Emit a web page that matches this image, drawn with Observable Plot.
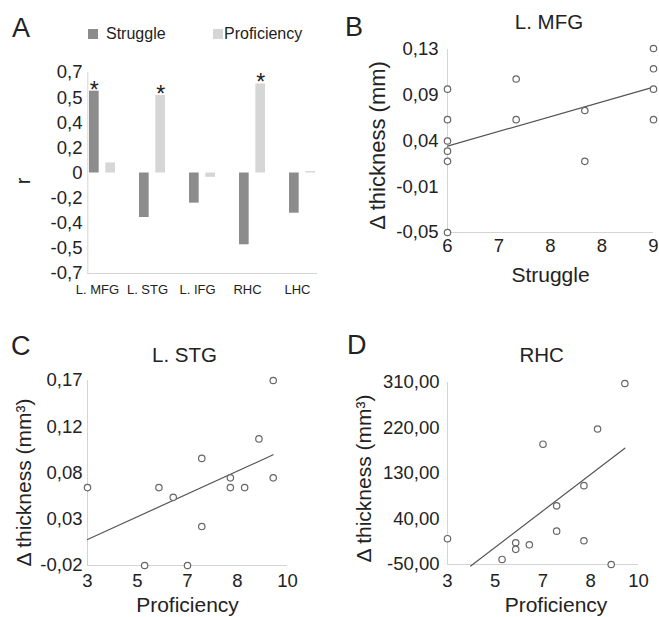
<!DOCTYPE html>
<html><head><meta charset="utf-8">
<script src="https://cdn.jsdelivr.net/npm/d3@7"></script>
<script src="https://cdn.jsdelivr.net/npm/@observablehq/plot@0.6"></script>
<style>
html,body{margin:0;padding:0;background:#fff;}
#root{position:relative;width:659px;height:617px;overflow:hidden;font-family:"Liberation Sans",Arial,sans-serif;color:#222;}
.abs{position:absolute;line-height:1;white-space:nowrap;}
#root svg{position:absolute;overflow:visible;}
</style></head><body><div id="root"></div>
<script>
// ---------- Panel A data ----------
const regions = ["L. MFG", "L. STG", "L. IFG", "RHC", "LHC"];
const seriesNames = ["Struggle", "Proficiency"];
const struggleR = [0.57, -0.31, -0.21, -0.50, -0.28];
const proficiencyR = [0.07, 0.54, -0.03, 0.62, 0.01];
const struggleSig = [true, false, false, false, false];
const proficiencySig = [false, true, false, true, false];
const aTicks = [0.7, 0.525, 0.35, 0.175, 0, -0.175, -0.35, -0.525, -0.7];
const aTickLabels = ["0,7", "0,5", "0,4", "0,2", "0", "-0,2", "-0,4", "-0,5", "-0,7"];

// ---------- Panel B data (L. MFG) ----------
const bStruggle = [6, 6, 6, 6, 6, 6, 7, 7, 8, 8, 9, 9, 9, 9];
const bThickness = [0.091, 0.061, 0.040, 0.030, 0.020, -0.050, 0.101, 0.061, 0.070, 0.020, 0.131, 0.111, 0.091, 0.061];
const bFitX = [6, 9];
const bFitY = [0.035, 0.093];
const bXTicks = [6, 6.75, 7.5, 8.25, 9];
const bXTickLabels = ["6", "7", "8", "8", "9"];
const bYTicks = [0.13, 0.085, 0.04, -0.005, -0.05];
const bYTickLabels = ["0,13", "0,09", "0,04", "-0,01", "-0,05"];

// ---------- Panel C data (L. STG) ----------
const cProficiency = [3, 5, 5.5, 6, 6.5, 7, 7, 8, 8, 8.5, 9, 9.5, 9.5];
const cThickness = [0.060, -0.020, 0.060, 0.050, -0.020, 0.090, 0.020, 0.070, 0.060, 0.060, 0.110, 0.170, 0.070];
const cFitX = [3, 9.5];
const cFitY = [0.0067, 0.0937];
const cXTicks = [3, 4.75, 6.5, 8.25, 10];
const cXTickLabels = ["3", "5", "7", "8", "10"];
const cYTicks = [0.17, 0.1225, 0.075, 0.0275, -0.02];
const cYTickLabels = ["0,17", "0,12", "0,08", "0,03", "-0,02"];

// ---------- Panel D data (RHC) ----------
const dProficiency = [3, 5, 5.5, 5.5, 6, 6.5, 7, 7, 8, 8, 8.5, 9, 9.5];
const dThickness = [1, -40, -7, -20, -11, 188, 66, 16, 106, -3, 218, -50, 308];
const dFitX = [3.85, 9.5];
const dFitY = [-53, 180];
const dXTicks = [3, 4.75, 6.5, 8.25, 10];
const dXTickLabels = ["3", "5", "7", "8", "10"];
const dYTicks = [310, 220, 130, 40, -50];
const dYTickLabels = ["310,00", "220,00", "130,00", "40,00", "-50,00"];

// ---------- styles ----------
const FONT = '"Liberation Sans", Arial, sans-serif';
const colStruggle = "#8c8c8c";
const colProficiency = "#d6d6d6";
const axisColor = "#d4d4d4";
const pointStroke = "#666";
const fitStroke = "#555";
const textColor = "#222";
const TICK = 18.5;

const root = document.getElementById("root");
const fmt = (ticks, labels) => { const m = new Map(ticks.map((t, i) => [t, labels[i]])); return d => m.get(d); };
const zip = (xs, ys) => xs.map((x, i) => ({x, y: ys[i]}));
function place(svg, left, top) { svg.style.left = left + "px"; svg.style.top = top + "px"; root.appendChild(svg); }
function label(text, x, baseline, size, anchor) {
  const d = document.createElement("div");
  d.className = "abs"; d.textContent = text;
  d.style.fontSize = size + "px";
  d.style.top = (baseline - 0.8465 * size) + "px";
  d.style.left = x + "px";
  if (anchor === "middle") d.style.transform = "translateX(-50%)";
  root.appendChild(d);
}
function swatch(color, left, top) {
  const d = document.createElement("div");
  d.style.cssText = `position:absolute;left:${left}px;top:${top}px;width:10px;height:10px;background:${color}`;
  root.appendChild(d);
}
const baseStyle = {fontFamily: FONT, fontSize: "17px", color: textColor, background: "transparent", overflow: "visible"};

// ---------- Panel A ----------
const rowsA = regions.flatMap((r, i) => [
  {region: r, series: seriesNames[0], r: struggleR[i], sig: struggleSig[i]},
  {region: r, series: seriesNames[1], r: proficiencyR[i], sig: proficiencySig[i]}
]);
const aPadIn = 0.475, aPadOut = 0.03, aWidth = 330, aML = 87, aMR = 13;
const aStep = (aWidth - aML - aMR) / (regions.length - aPadIn + 2 * aPadOut);
const aBand = aStep * (1 - aPadIn);
const plotA = Plot.plot({
  width: aWidth, height: 300,
  marginLeft: aML, marginRight: aMR, marginTop: 72, marginBottom: 27,
  style: baseStyle,
  x: {domain: regions, paddingInner: aPadIn, paddingOuter: aPadOut},
  y: {domain: [-0.7, 0.7]},
  marks: [
    Plot.ruleY([-0.7], {stroke: axisColor}),
    Plot.ruleX([regions[0]], {stroke: axisColor, dx: -(aPadOut * aStep + aBand / 2)}),
    Plot.axisY({ticks: aTicks, tickFormat: fmt(aTicks, aTickLabels), tickSize: 0, tickPadding: 5, label: null, fontSize: TICK, fill: textColor}),
    Plot.axisX({tickSize: 0, tickPadding: 11, fontSize: 13, dx: -5, label: null, fill: textColor}),
    Plot.barY(rowsA.filter(d => d.series === seriesNames[0]), {x: "region", y: "r", fill: colStruggle, insetRight: aBand - 10}),
    Plot.barY(rowsA.filter(d => d.series === seriesNames[1]), {x: "region", y: "r", fill: colProficiency, insetLeft: aBand - 10}),
    Plot.text(rowsA.filter(d => d.sig && d.series === seriesNames[0]), {x: "region", y: "r", text: () => "*", dx: -(aBand / 2 - 5), dy: -1, fontSize: 23, fill: textColor}),
    Plot.text(rowsA.filter(d => d.sig && d.series === seriesNames[1]), {x: "region", y: "r", text: () => "*", dx: aBand / 2 - 5, dy: -1, fontSize: 23, fill: textColor}),
    Plot.text(["r"], {frameAnchor: "left", textAnchor: "middle", rotate: -90, dx: -64, dy: 8, fontSize: 20, fill: textColor})
  ]
});
place(plotA, 0, 0);

// ---------- scatter panels ----------
function scatter({w, h, ml, mr, mt, mb, xDomain, yDomain, xs, ys, fitX, fitY, xTicks, xLabels, yTicks, yLabels, xPad, yPad, xTitle, yTitle, xtdx, xtdy, ytdx, ytdy, ytSize}) {
  return Plot.plot({
    width: w, height: h, marginLeft: ml, marginRight: mr, marginTop: mt, marginBottom: mb,
    style: baseStyle,
    x: {domain: xDomain},
    y: {domain: yDomain},
    marks: [
      Plot.ruleX([xDomain[0]], {stroke: axisColor}),
      Plot.ruleY([yDomain[0]], {stroke: axisColor}),
      Plot.axisX({ticks: xTicks, tickFormat: fmt(xTicks, xLabels), tickSize: 0, tickPadding: xPad, label: null, fontSize: TICK, fill: textColor}),
      Plot.axisY({ticks: yTicks, tickFormat: fmt(yTicks, yLabels), tickSize: 0, tickPadding: yPad, label: null, fontSize: TICK, fill: textColor}),
      Plot.line(zip(fitX, fitY), {x: "x", y: "y", stroke: fitStroke, strokeWidth: 1.2}),
      Plot.dot(zip(xs, ys), {x: "x", y: "y", r: 3.2, stroke: pointStroke, strokeWidth: 1.2, fill: "white"}),
      Plot.text([xTitle], {frameAnchor: "bottom", textAnchor: "middle", lineAnchor: "top", dx: xtdx, dy: xtdy, fontSize: 21, fill: textColor}),
      Plot.text([yTitle], {frameAnchor: "left", textAnchor: "middle", rotate: -90, dx: ytdx, dy: ytdy, fontSize: ytSize, fill: textColor})
    ]
  });
}

place(scatter({w: 329, h: 300, ml: 117, mr: 6, mt: 49, mb: 68,
  xDomain: [6, 9], yDomain: [-0.05, 0.13], xs: bStruggle, ys: bThickness, fitX: bFitX, fitY: bFitY,
  xTicks: bXTicks, xLabels: bXTickLabels, yTicks: bYTicks, yLabels: bYTickLabels, xPad: 6, yPad: 9,
  xTitle: "Struggle", yTitle: "Δ thickness (mm)", xtdx: 0, xtdy: 35, ytdx: -70, ytdy: 4.5, ytSize: 22}), 330, 0);

place(scatter({w: 330, h: 317, ml: 87, mr: 43, mt: 80, mb: 52,
  xDomain: [3, 10], yDomain: [-0.02, 0.17], xs: cProficiency, ys: cThickness, fitX: cFitX, fitY: cFitY,
  xTicks: cXTicks, xLabels: cXTickLabels, yTicks: cYTicks, yLabels: cYTickLabels, xPad: 8, yPad: 5,
  xTitle: "Proficiency", yTitle: "Δ thickness (mm³)", xtdx: 0, xtdy: 32, ytdx: -63, ytdy: 9.5, ytSize: 21}), 0, 300);

place(scatter({w: 329, h: 317, ml: 117, mr: 21, mt: 82, mb: 53,
  xDomain: [3, 10], yDomain: [-50, 310], xs: dProficiency, ys: dThickness, fitX: dFitX, fitY: dFitY,
  xTicks: dXTicks, xLabels: dXTickLabels, yTicks: dYTicks, yLabels: dYTickLabels, xPad: 9, yPad: 8,
  xTitle: "Proficiency", yTitle: "Δ thickness (mm³)", xtdx: 13, xtdy: 33, ytdx: -83, ytdy: 5, ytSize: 21}), 330, 300);

// ---------- panel letters, titles, legend ----------
label("A", 12, 38.3, 27);
label("B", 345, 36.7, 27);
label("C", 11, 356, 27);
label("D", 347, 355, 27);
label("L. MFG", 549, 29.3, 20.5, "middle");
label("L. STG", 184.5, 362.3, 20.5, "middle");
label("RHC", 541.7, 362, 20.5, "middle");
swatch(colStruggle, 88, 29);
label(seriesNames[0], 106, 39.3, 16);
swatch(colProficiency, 213, 29);
label(seriesNames[1], 224, 39.3, 16);
</script></body></html>
